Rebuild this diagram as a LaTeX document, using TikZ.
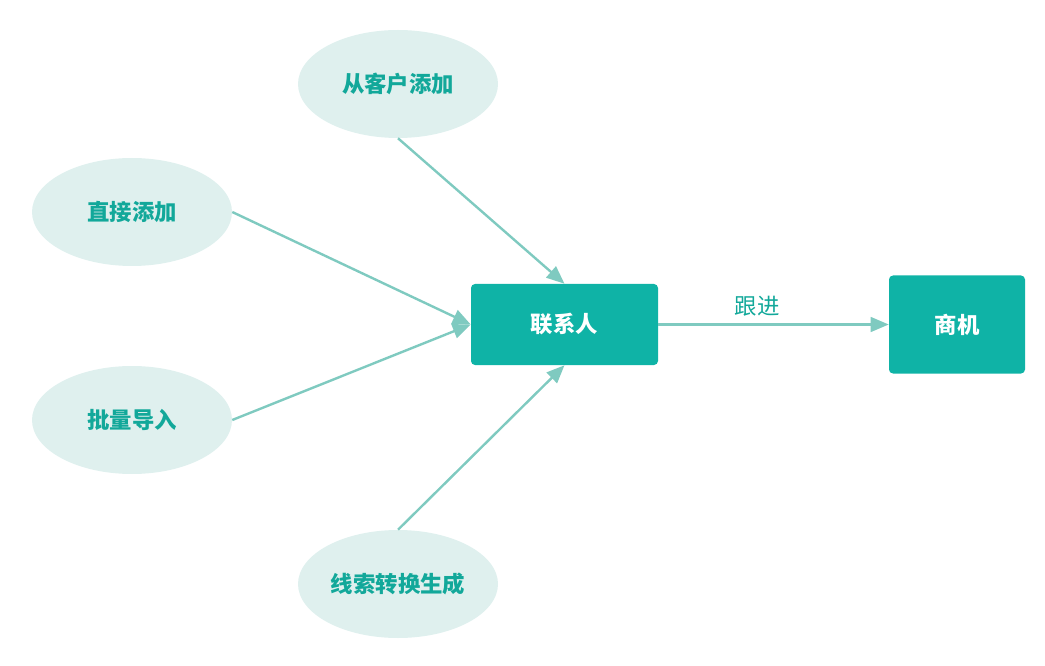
\documentclass[tikz,border=0pt]{standalone}
\usepackage{fontspec}
\setmainfont{Noto Sans CJK SC}
\usetikzlibrary{arrows.meta,shapes.geometric}
\definecolor{boxcol}{RGB}{15,179,166}
\definecolor{ellcol}{RGB}{223,240,238}
\definecolor{txtcol}{RGB}{18,168,154}
\definecolor{arrcol}{RGB}{127,202,192}
\tikzset{
  % source ellipse
  srcnode/.style={ellipse, fill=ellcol, minimum width=200*0.75pt, minimum height=108*0.75pt, inner sep=0pt,
                  text=txtcol, font=\fontsize{16.8}{20}\selectfont\bfseries},
  % main box
  mbox/.style={rectangle, rounded corners=3pt, fill=boxcol, text=white, inner sep=0pt,
               font=\fontsize{16.8}{20}\selectfont\bfseries},
  % flow arrow
  flowarrow/.style={-{Triangle[length=13.5pt,width=11pt]}, line width=1.8pt, arrcol},
}
\begin{document}
\begin{tikzpicture}[x=0.75pt, y=-0.75pt]
  \useasboundingbox (0,0) rectangle (1045,666);

  % ── sources ──
  \node[srcnode] (cust) at (398,84) {从客户添加};
  \node[srcnode] (dir) at (132,212) {直接添加};
  \node[srcnode] (imp) at (132,420) {批量导入};
  \node[srcnode] (lead) at (398,584) {线索转换生成};

  % ── contact and opportunity ──
  \node[mbox, minimum width=187*0.75pt, minimum height=81*0.75pt] (ct) at (564.5,324.5) {联系人};
  \node[mbox, minimum width=136*0.75pt, minimum height=98*0.75pt] (opp) at (957,324.5) {商机};

  \draw[flowarrow] (cust.south) -- (ct.north);
  \draw[flowarrow] (dir.east) -- (ct.west);
  \draw[flowarrow] (imp.east) -- (ct.west);
  \draw[flowarrow] (lead.north) -- (ct.south);
  \draw[flowarrow] (ct.east) -- node[pos=0.43, above=2pt, text=txtcol, font=\fontsize{16.8}{20}\selectfont]{跟进} (opp.west);

\end{tikzpicture}
\end{document}
